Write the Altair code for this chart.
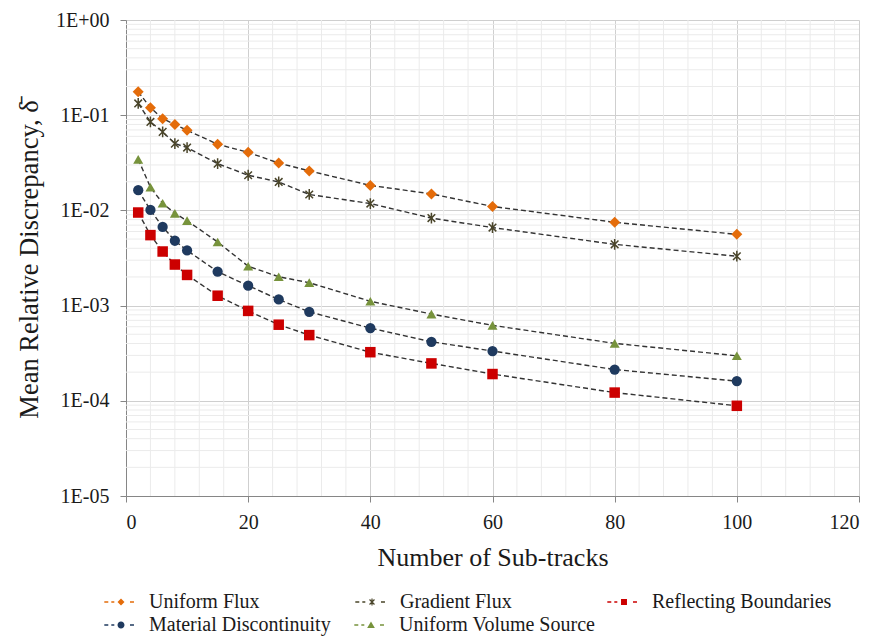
import math
import altair as alt
import pandas as pd

# ---------------- data ----------------
sub_tracks = [2, 4, 6, 8, 10, 15, 20, 25, 30, 40, 50, 60, 80, 100]
series_names = ["Uniform Flux", "Gradient Flux", "Reflecting Boundaries",
                "Material Discontinuity", "Uniform Volume Source"]
uniform_flux = [0.176, 0.120, 0.092, 0.080, 0.0695, 0.0495, 0.0407, 0.0314,
                0.026, 0.0183, 0.0149, 0.0110, 0.0075, 0.0056]
gradient_flux = [0.133, 0.085, 0.0668, 0.0503, 0.0457, 0.031, 0.0234, 0.0199,
                 0.0147, 0.0118, 0.0083, 0.0066, 0.0044, 0.0033]
reflecting_boundaries = [0.0095, 0.0055, 0.0037, 0.0027, 0.0021, 0.00127, 0.00088,
                         0.00063, 0.00049, 0.000324, 0.000247, 0.000191, 0.000122, 0.0000886]
material_discontinuity = [0.0163, 0.0101, 0.0067, 0.0048, 0.0038, 0.00227, 0.00162,
                          0.00116, 0.00086, 0.00058, 0.000417, 0.000333, 0.000213, 0.000161]
uniform_volume_source = [0.0344, 0.0175, 0.0119, 0.0093, 0.0078, 0.00466, 0.00259,
                         0.00201, 0.00174, 0.00111, 0.000815, 0.00062, 0.000401, 0.000297]

x_ticks = [0, 20, 40, 60, 80, 100, 120]
y_ticks = [1e-5, 1e-4, 1e-3, 1e-2, 1e-1, 1]
x_minor = [v for v in range(4, 120, 4) if v % 20]
y_minor = [m * 10.0 ** e for e in range(-5, 0) for m in range(2, 10)]

series_values = [uniform_flux, gradient_flux, reflecting_boundaries,
                 material_discontinuity, uniform_volume_source]
rows = []
for name, vals in zip(series_names, series_values):
    for x, v in zip(sub_tracks, vals):
        rows.append({"x": x, "value": v, "series": name})
df = pd.DataFrame(rows)
df_xminor = pd.DataFrame({"x": x_minor})
df_yminor = pd.DataFrame({"value": y_minor})

# ---------------- styles ----------------
colors = ["#E46C0A", "#4A452A", "#CC0000", "#1F3A5F", "#77933C"]
FONT = "Liberation Serif"
TXT = "#1a1a1a"


def poly(pts):
    return "M" + "L".join(f"{px:.3f},{py:.3f}" for px, py in pts) + "Z"


def asterisk(w, L=1.0):
    out = ""
    for ang in (90, 45, 135):
        a = math.radians(ang)
        dx, dy = math.cos(a) * L, math.sin(a) * L
        nx, ny = -math.sin(a) * w, math.cos(a) * w
        out += poly([(-dx + nx, -dy + ny), (dx + nx, dy + ny),
                     (dx - nx, dy - ny), (-dx - nx, -dy - ny)])
    return out


def dash(x0, x1, h=0.2):
    return poly([(x0, -h), (x1, -h), (x1, h), (x0, h)])


DASHES = dash(-4.77, -3.63) + dash(-2.77, -1.91) + dash(2.57, 3.71)
legend_marks = {
    "Uniform Flux": "M0,-1L1,0L0,1L-1,0Z",
    "Gradient Flux": asterisk(0.17),
    "Reflecting Boundaries": poly([(-0.85, -0.85), (0.85, -0.85), (0.85, 0.85), (-0.85, 0.85)]),
    "Material Discontinuity": "M1,0A1,1,0,1,1,-1,0A1,1,0,1,1,1,0Z",
    "Uniform Volume Source": poly([(0, -1), (1.1, 0.85), (-1.1, 0.85)]),
}
plot_shapes = ["diamond", asterisk(0.14), "square", "circle", "triangle-up"]
plot_sizes = [121, 100, 81, 81, 130]

AXIS_COMMON = dict(labelFont=FONT, labelFontSize=20, labelColor=TXT,
                   titleFont=FONT, titleFontWeight="normal", titleColor=TXT,
                   domainColor="#868686", tickColor="#868686", tickSize=6,
                   gridColor="#cfcfcf", gridWidth=1, grid=True)


def xenc():
    return alt.X("x:Q", scale=alt.Scale(domain=[0, 120], nice=False, zero=False),
                 axis=alt.Axis(values=x_ticks, title="Number of Sub-tracks",
                               titleFontSize=26, titleY=61, titleBaseline="middle",
                               labelPadding=10, **AXIS_COMMON))


def yenc():
    return alt.Y("value:Q", scale=alt.Scale(type="log", domain=[1e-5, 1], nice=False),
                 axis=alt.Axis(values=y_ticks, title="Mean Relative Discrepancy, δ\u0304",
                               titleFontSize=26.5, titleX=-97, titleY=239, titleBaseline="middle",
                               labelPadding=11,
                               labelExpr="datum.value >= 1 ? '1E+00' : '1E-0' + round(-log(datum.value)/LN10)",
                               **AXIS_COMMON))


minor_x = alt.Chart(df_xminor).mark_rule(color="#ebebeb", strokeWidth=1).encode(x=xenc())
minor_y = alt.Chart(df_yminor).mark_rule(color="#ebebeb", strokeWidth=1).encode(y=yenc())

lines = alt.Chart(df).mark_line(strokeDash=[5, 3], color="#333333", strokeWidth=1.4).encode(
    x=xenc(), y=yenc(), detail="series:N")

points = alt.Chart(df).mark_point(filled=True, opacity=1, strokeWidth=0).encode(
    x=xenc(), y=yenc(),
    color=alt.Color("series:N", scale=alt.Scale(domain=series_names, range=colors), legend=None),
    shape=alt.Shape("series:N", scale=alt.Scale(domain=series_names, range=plot_shapes), legend=None),
    size=alt.Size("series:N", scale=alt.Scale(domain=series_names, range=plot_sizes), legend=None),
)


def legend_layer(names, lx, ly, pad):
    cols = [colors[series_names.index(n)] for n in names]
    paths = [DASHES + legend_marks[n] for n in names]
    leg = alt.Legend(orient="none", legendX=lx, legendY=ly, direction="horizontal", title=None,
                     labelFont=FONT, labelFontSize=20, labelColor=TXT, labelOffset=18,
                     columnPadding=pad, padding=0, symbolSize=49, symbolStrokeWidth=0,
                     symbolOpacity=1, labelLimit=400)
    return alt.Chart(df).transform_filter("datum.x < 0").mark_point(
        filled=True, opacity=1, strokeWidth=0).encode(
        x=xenc(), y=yenc(),
        color=alt.Color("series:N", scale=alt.Scale(domain=names, range=cols), legend=leg),
        shape=alt.Shape("series:N", scale=alt.Scale(domain=names, range=paths), legend=leg),
    )


leg1 = legend_layer(series_names[:3], -15, 572, 95)
leg2 = legend_layer(series_names[3:], -15, 595, 23)

chart = alt.layer(minor_x, minor_y, lines, points, leg1, leg2).resolve_scale(
    color="independent", shape="independent", size="independent"
).resolve_legend(color="independent", shape="independent").properties(
    width=733, height=476,
    autosize=alt.AutoSizeParams(type="none"),
    padding={"left": 126, "top": 20, "right": 18, "bottom": 148},
    background="white",
).configure(
    font=FONT,
    style={"guide-label": {"font": FONT}, "guide-title": {"font": FONT}},
).configure_view(stroke=None).configure_axis(labelFont=FONT, titleFont=FONT)

chart.save("out.html", embed_options={"renderer": "svg", "actions": False})
